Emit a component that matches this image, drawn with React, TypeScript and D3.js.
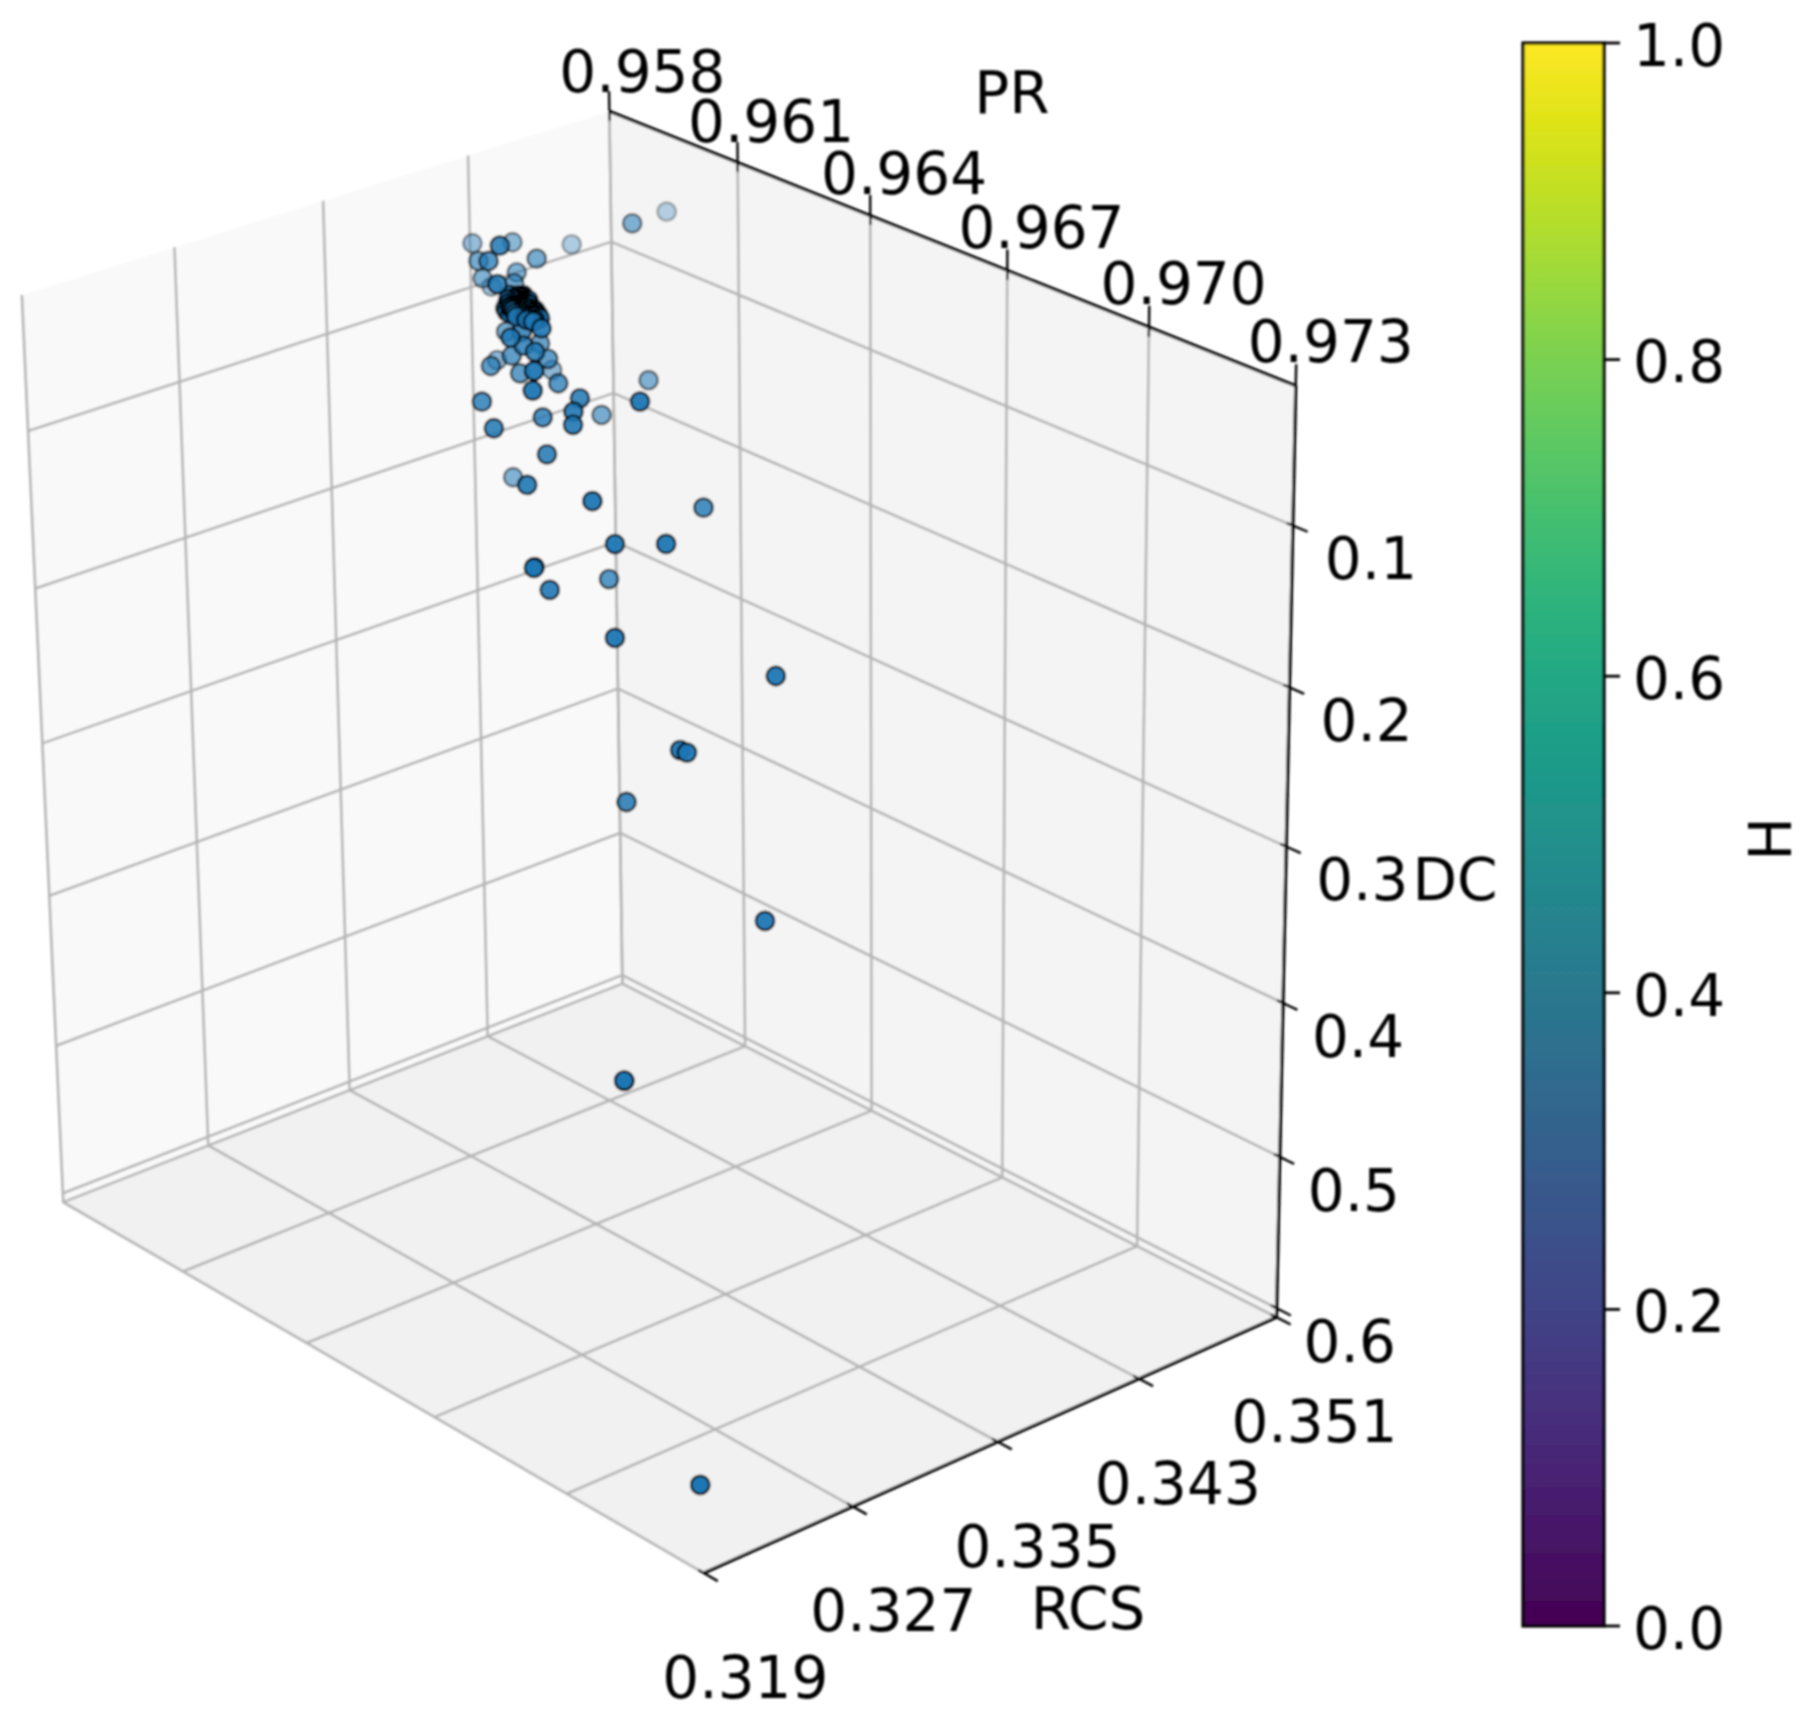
import React from 'react';
import * as d3 from 'd3';

const prTicks = [0.958, 0.961, 0.964, 0.967, 0.97, 0.973];
const rcsTicks = [0.319, 0.327, 0.335, 0.343, 0.351];
const dcTicks = [0.1, 0.2, 0.3, 0.4, 0.5, 0.6];
const hTicks = [0, 0.2, 0.4, 0.6, 0.8, 1];

const prValues = [
  0.95976, 0.96065, 0.95815, 0.95889, 0.96053, 0.95883, 0.95973, 0.959, 0.95991, 0.95921, 0.95878, 0.96049,
  0.95944, 0.95815, 0.9604, 0.96037, 0.96034, 0.96042, 0.96049, 0.96076, 0.9608, 0.96084, 0.9609, 0.96094,
  0.9607, 0.96076, 0.96082, 0.9604, 0.96089, 0.96079, 0.96095, 0.96087, 0.96072, 0.96099, 0.96066, 0.96036,
  0.96057, 0.96101, 0.96084, 0.96092, 0.96074, 0.96083, 0.96263, 0.95933, 0.96064, 0.96054, 0.96056, 0.96094,
  0.96002, 0.96038, 0.95993, 0.95867, 0.95967, 0.96003, 0.96414, 0.95936, 0.96074, 0.96412, 0.96083, 0.96539,
  0.96148, 0.96003, 0.963, 0.96078, 0.96299, 0.9605, 0.96041, 0.96106, 0.95911, 0.96242, 0.96481, 0.96275,
  0.96507, 0.96568, 0.9671, 0.96711, 0.96267, 0.96133, 0.96505, 0.96697, 0.96582, 0.9659, 0.96198, 0.96682,
  0.97004, 0.97004, 0.97155,
  // dense knot around the middle of the cloud
  0.96062, 0.96068, 0.96074, 0.9607, 0.96064, 0.96068, 0.96074, 0.9608, 0.96084, 0.96078, 0.96072, 0.96066,
  0.96072, 0.9608, 0.96086, 0.9609, 0.96092, 0.96096, 0.96098, 0.96088, 0.96094, 0.96076, 0.96082, 0.96088,
  0.9607, 0.96064, 0.96076, 0.96082, 0.96086, 0.9608, 0.96074, 0.96084, 0.9609, 0.96096, 0.96078, 0.96068,
  0.96072, 0.96078, 0.96082, 0.96086,
];
const rcsValues = [
  0.34996, 0.34586, 0.34279, 0.34331, 0.3388, 0.34677, 0.34268, 0.34114, 0.3396, 0.34277, 0.34186, 0.33871,
  0.34208, 0.34381, 0.33959, 0.33952, 0.33946, 0.33964, 0.33977, 0.3393, 0.33938, 0.33947, 0.3396, 0.33968,
  0.33916, 0.33929, 0.33942, 0.33958, 0.33956, 0.33934, 0.33969, 0.33952, 0.3392, 0.33977, 0.33908, 0.3395,
  0.33994, 0.33981, 0.33946, 0.33964, 0.33925, 0.33943, 0.33608, 0.34183, 0.33903, 0.33988, 0.33992, 0.33966,
  0.3421, 0.34169, 0.34072, 0.34283, 0.34016, 0.34093, 0.3321, 0.3443, 0.34138, 0.33206, 0.34623, 0.33477,
  0.34082, 0.33879, 0.33686, 0.34039, 0.33685, 0.34434, 0.33854, 0.33993, 0.34257, 0.33563, 0.33352, 0.34459,
  0.33408, 0.33538, 0.32498, 0.32499, 0.33617, 0.34264, 0.33405, 0.33814, 0.33567, 0.33585, 0.34189, 0.33782,
  0.32228, 0.32229, 0.32239,
  0.33899, 0.33912, 0.33925, 0.33916, 0.33903, 0.33912, 0.33925, 0.33938, 0.33947, 0.33934, 0.33921, 0.33908,
  0.33921, 0.33938, 0.33951, 0.3396, 0.33964, 0.33973, 0.33977, 0.33955, 0.33968, 0.33929, 0.33942, 0.33955,
  0.33916, 0.33903, 0.33929, 0.33942, 0.33951, 0.33938, 0.33925, 0.33947, 0.3396, 0.33973, 0.33934, 0.33912,
  0.33921, 0.33934, 0.33942, 0.33951,
];
const dcValues = [
  0.0566, 0.039, 0.069, 0.0618, 0.0286, 0.0766, 0.0604, 0.0645, 0.0484, 0.0755, 0.0809, 0.053,
  0.0773, 0.1009, 0.0643, 0.0697, 0.073, 0.0674, 0.065, 0.0632, 0.0652, 0.0671, 0.069, 0.0721,
  0.0677, 0.0695, 0.0714, 0.076, 0.0649, 0.061, 0.0678, 0.0618, 0.0729, 0.0708, 0.0657, 0.075,
  0.0637, 0.0729, 0.0745, 0.0753, 0.0654, 0.063, 0.046, 0.1088, 0.0865, 0.0871, 0.096, 0.0944,
  0.1092, 0.1133, 0.1129, 0.1388, 0.1205, 0.1239, 0.0393, 0.1427, 0.1235, 0.0515, 0.1391, 0.0535,
  0.1221, 0.1339, 0.0968, 0.1411, 0.1052, 0.1583, 0.1454, 0.1597, 0.2091, 0.1454, 0.1174, 0.1917,
  0.1432, 0.1407, 0.0951, 0.0945, 0.2115, 0.2482, 0.2024, 0.2184, 0.2703, 0.2716, 0.3837, 0.3759,
  0.3584, 0.3587, 0.5921,
  0.0623, 0.0613, 0.0594, 0.0632, 0.0642, 0.0662, 0.0623, 0.0623, 0.0642, 0.0662, 0.0652, 0.0681,
  0.0691, 0.0681, 0.0691, 0.0672, 0.07, 0.0691, 0.072, 0.072, 0.074, 0.071, 0.073, 0.074,
  0.071, 0.0672, 0.0603, 0.0603, 0.0652, 0.0642, 0.0672, 0.0691, 0.071, 0.071, 0.07, 0.0691,
  0.0632, 0.0642, 0.0662, 0.0672,
];

// cube corners on the page (pr, rcs, dc fractions -> px), the camera is fitted from these
const cubeCorners = [
  [0, 0, 0, 22, 294], [0, 1, 0, 609, 112], [1, 1, 0, 1296, 386],
  [0, 0, 1, 64, 1204], [0, 1, 1, 622, 982], [1, 0, 1, 703, 1572], [1, 1, 1, 1277, 1318],
];

function solve(A: number[][], b: number[]) {
  const n = b.length;
  const M = A.map((r, i) => [...r, b[i]]);
  for (let i = 0; i < n; i++) {
    let piv = i;
    for (let k = i + 1; k < n; k++) if (Math.abs(M[k][i]) > Math.abs(M[piv][i])) piv = k;
    [M[i], M[piv]] = [M[piv], M[i]];
    for (let k = 0; k < n; k++) {
      if (k === i) continue;
      const f = M[k][i] / M[i][i];
      for (let j = i; j <= n; j++) M[k][j] -= f * M[i][j];
    }
  }
  return M.map((r, i) => r[n] / r[i]);
}

function fitCamera() {
  const rows: number[][] = [];
  const rhs: number[] = [];
  cubeCorners.forEach(([u, v, w, x0, y0]) => {
    const x = x0 / 1000, y = y0 / 1000;
    rows.push([u, v, w, 1, 0, 0, 0, 0, -x * u, -x * v, -x * w]); rhs.push(x);
    rows.push([0, 0, 0, 0, u, v, w, 1, -y * u, -y * v, -y * w]); rhs.push(y);
  });
  const AtA = d3.range(11).map(i => d3.range(11).map(j => d3.sum(rows, r => r[i] * r[j])));
  const Atb = d3.range(11).map(i => d3.sum(rows, (r, k) => r[i] * rhs[k]));
  return solve(AtA, Atb);
}
const cam = fitCamera();

const project = (u: number, v: number, w: number): [number, number] => {
  const d = cam[8] * u + cam[9] * v + cam[10] * w + 1;
  return [
    (1000 * (cam[0] * u + cam[1] * v + cam[2] * w + cam[3])) / d,
    (1000 * (cam[4] * u + cam[5] * v + cam[6] * w + cam[7])) / d,
  ];
};

const prScale = d3.scaleLinear().domain([0.958, 0.973]).range([0, 1]);
const rcsScale = d3.scaleLinear().domain([0.319, 0.351]).range([0, 1]);
const dcScale = d3.scaleLinear().domain([0.015, 0.606]).range([0, 1]);
const hScale = d3.scaleLinear().domain([0, 1]).range([1626, 43]);
const depthAlpha = d3.scaleLinear().domain([-0.85, -0.55, -0.45, 0, 0.7]).range([0.3, 0.7, 0.85, 0.95, 1]).clamp(true);

const line = d3.line();
const seg = (...pts: [number, number, number][]) => line(pts.map(p => project(p[0], p[1], p[2]))) as string;
const font = 'DejaVu Sans';
const fs = 58;

const points = prValues
  .map((pr, i) => {
    const u = prScale(pr), v = rcsScale(rcsValues[i]), w = dcScale(dcValues[i]);
    return { u, v, w, depth: u - v };
  })
  .sort((a, b) => a.depth + 0.5 * a.w - (b.depth + 0.5 * b.w));

const Label = ({ x, y, t, rot }: { x: number; y: number; t: string; rot?: number }) => (
  <text
    x={x}
    y={y}
    dy="0.36em"
    textAnchor="middle"
    fontFamily={font}
    fontSize={fs}
    fill="#000"
    transform={rot ? `rotate(${rot},${x},${y})` : undefined}
  >
    {t}
  </text>
);

export default function App() {
  const grid = { stroke: '#b4b4b4', strokeWidth: 2.6, fill: 'none' };
  const axis = { stroke: '#000', strokeWidth: 3.2, fill: 'none' };
  const tick = { stroke: '#000', strokeWidth: 2.4, fill: 'none' };
  const stops = d3.range(0, 1.001, 0.05);
  return (
    <svg width={1814} height={1721} style={{ position: 'absolute', left: 0, top: 0, background: '#fff' }}>
      <defs>
        <linearGradient id="viridis" x1="0" y1="1" x2="0" y2="0">
          {stops.map(s => <stop key={s} offset={s} stopColor={d3.interpolateViridis(s)} />)}
        </linearGradient>
        <filter id="soft" x="0" y="0" width="100%" height="100%" filterUnits="userSpaceOnUse">
          <feGaussianBlur stdDeviation="0.8" />
        </filter>
      </defs>
      <g filter="url(#soft)">
        {/* panes */}
        <path d={seg([0, 0, 0], [0, 1, 0], [0, 1, 1], [0, 0, 1]) + 'Z'} fill="#f9f9f9" />
        <path d={seg([0, 1, 0], [1, 1, 0], [1, 1, 1], [0, 1, 1]) + 'Z'} fill="#f4f4f4" />
        <path d={seg([0, 0, 1], [1, 0, 1], [1, 1, 1], [0, 1, 1]) + 'Z'} fill="#f1f1f1" />

        {/* grid */}
        {prTicks.map(t => {
          const u = prScale(t);
          return <path key={t} d={seg([u, 0, 1], [u, 1, 1], [u, 1, 0])} {...grid} />;
        })}
        {rcsTicks.map(t => {
          const v = rcsScale(t);
          return <path key={t} d={seg([1, v, 1], [0, v, 1], [0, v, 0])} {...grid} />;
        })}
        {dcTicks.map(t => {
          const w = dcScale(t);
          return <path key={t} d={seg([0, 0, w], [0, 1, w], [1, 1, w])} {...grid} />;
        })}

        {/* axes */}
        <path d={seg([0, 1, 0], [1, 1, 0])} {...axis} />
        <path d={seg([1, 0, 1], [1, 1, 1])} {...axis} />
        <path d={seg([1, 1, 0], [1, 1, 1])} {...axis} />

        {prTicks.map(t => {
          const u = prScale(t);
          const [x, y] = project(u, 1, 0);
          return (
            <g key={t}>
              <path d={seg([u, 1, -0.022], [u, 1, 0.01])} {...tick} />
              <Label x={x + 33 + 2 * u} y={y - 40 - 5 * u} t={t.toFixed(3)} />
            </g>
          );
        })}
        {rcsTicks.map(t => {
          const v = rcsScale(t);
          const [x, y] = project(1, v, 1);
          return (
            <g key={t}>
              <path d={seg([0.992, v, 1], [1.02, v, 1])} {...tick} />
              <Label x={x + 41.5 - 3.5 * v} y={y + 104} t={t.toFixed(3)} />
            </g>
          );
        })}
        {dcTicks.map(t => {
          const w = dcScale(t);
          const [x, y] = project(1, 1, w);
          return (
            <g key={t}>
              <path d={seg([0.992, 1, w], [1.02, 1, w])} {...tick} />
              <Label x={x + 79 - 6 * w} y={y + 33} t={t.toFixed(1)} />
            </g>
          );
        })}
        <Label x={1012} y={92} t="PR" />
        <Label x={1088} y={1608} t="RCS" />
        <Label x={1455} y={879} t="DC" />

        {/* scatter, far points first */}
        {points.map((d, i) => {
          const [x, y] = project(d.u, d.v, d.w);
          const a = depthAlpha(d.depth);
          return (
            <circle key={i} cx={x} cy={y} r={9.2} fill="#1f77b4" fillOpacity={a} stroke="#000" strokeOpacity={a} strokeWidth={2.4} />
          );
        })}

        {/* colorbar */}
        <rect x={1523} y={hScale(1)} width={81} height={hScale(0) - hScale(1)} fill="url(#viridis)" stroke="#000" strokeWidth={3.2} />
        {hTicks.map(t => (
          <g key={t}>
            <line x1={1604} x2={1620} y1={hScale(t)} y2={hScale(t)} stroke="#000" strokeWidth={2.8} />
            <Label x={1679} y={hScale(t) + 2} t={t.toFixed(1)} />
          </g>
        ))}
        <Label x={1770} y={839} t="H" rot={-90} />
      </g>
    </svg>
  );
}
